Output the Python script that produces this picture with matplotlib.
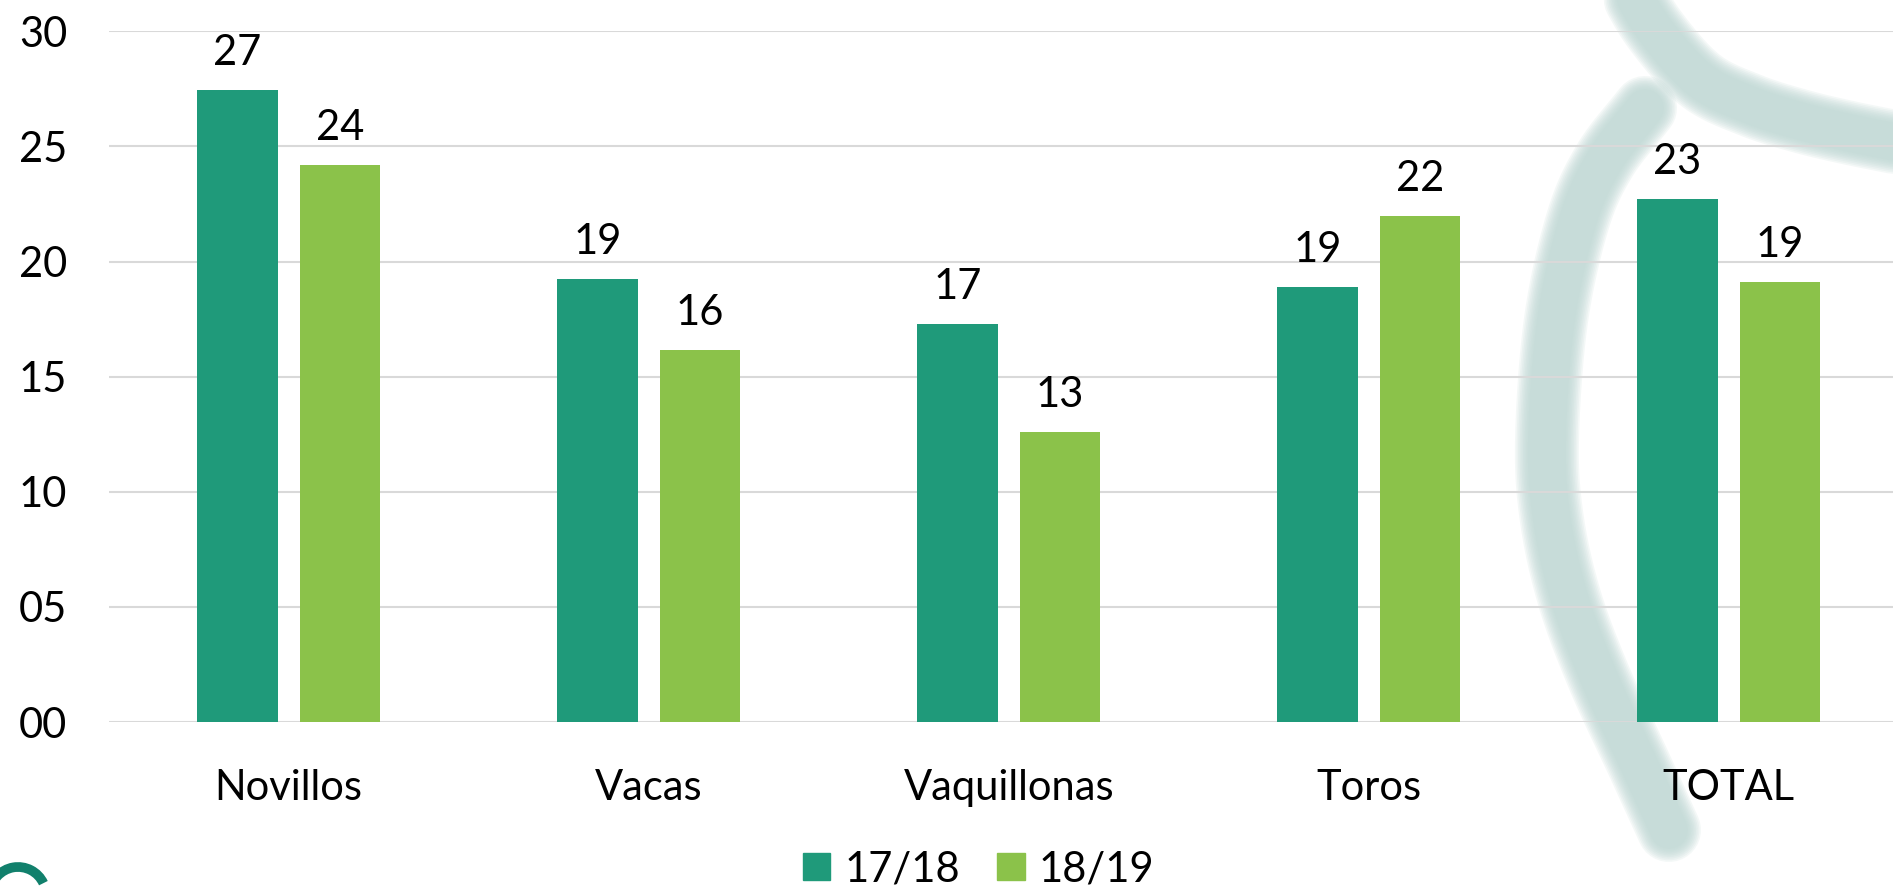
import matplotlib
matplotlib.use("Agg")
import matplotlib.pyplot as plt
from matplotlib.lines import Line2D
from matplotlib.patches import Arc, Patch
import numpy as np

# data
categories = ["Novillos", "Vacas", "Vaquillonas", "Toros", "TOTAL"]
season_1718 = [27.45, 19.25, 17.3, 18.9, 22.7]
season_1819 = [24.2, 16.15, 12.6, 22.0, 19.1]
series_names = ["17/18", "18/19"]
y_ticks = [0, 5, 10, 15, 20, 25, 30]

dark_green = "#1f9a7a"
light_green = "#8bc24a"
grid_color = "#d9d9d9"

plt.rcParams["font.family"] = ["Lato", "DejaVu Sans"]

W, H = 1893, 886
fig = plt.figure(figsize=(W / 100, H / 100), dpi=100)


def smooth(xs, ys, n=20):
    # catmull-rom through the traced points
    p = np.column_stack([xs, ys]).astype(float)
    p = np.vstack([2 * p[0] - p[1], p, 2 * p[-1] - p[-2]])
    out = []
    t = np.linspace(0, 1, n, endpoint=False)[:, None]
    for i in range(1, len(p) - 2):
        p0, p1, p2, p3 = p[i - 1], p[i], p[i + 1], p[i + 2]
        out.append(0.5 * (2 * p1 + (-p0 + p2) * t + (2 * p0 - 5 * p1 + 4 * p2 - p3) * t ** 2
                          + (-p0 + 3 * p1 - 3 * p2 + p3) * t ** 3))
    out.append(p[-2][None, :])
    out = np.vstack(out)
    return out[:, 0], out[:, 1]


# faint logo watermark behind the chart, traced in image pixels (y down)
upper_x = [1625, 1655, 1700, 1750, 1800, 1850, 1910]
upper_y = [-20, 30, 80, 105, 121, 133, 145]
c_x = [1645, 1605, 1578, 1556, 1547, 1552, 1570, 1600, 1637, 1669]
c_y = [108, 160, 220, 320, 440, 520, 600, 680, 760, 830]
for xs, ys in ((upper_x, upper_y), (c_x, c_y)):
    sx, sy = smooth(xs, ys)
    for lw_px in np.linspace(64, 38, 9):
        fig.add_artist(Line2D(sx, H - sy, transform=None,
                              color="#bcd6d2", lw=lw_px * 0.72, alpha=0.16,
                              solid_capstyle="round", solid_joinstyle="round",
                              zorder=-2))
# dark logo stroke peeking in at the bottom left corner
fig.patches.append(Arc((18, -9), 56, 56, theta1=25, theta2=175,
                       color="#11806c", lw=7, zorder=-1, transform=None))

ax = fig.add_axes([0.0574, 0.185, 0.951, 0.7796])
ax.patch.set_alpha(0)

x = np.arange(len(categories))
w = 0.224
off = 0.1424
b1 = ax.bar(x - off, season_1718, w, color=dark_green, label=series_names[0], zorder=3)
b2 = ax.bar(x + off, season_1819, w, color=light_green, label=series_names[1], zorder=3)

for bars in (b1, b2):
    for rect in bars:
        h = rect.get_height()
        ax.annotate(f"{h:02.0f}", (rect.get_x() + rect.get_width() / 2, h),
                    xytext=(0, 13), textcoords="offset points",
                    ha="center", va="bottom", fontsize=30, zorder=4)

ax.set_xlim(-0.5, 4.5)
ax.set_ylim(0, 30)
ax.set_yticks(y_ticks)
ax.set_yticklabels([f"{v:02d}" for v in y_ticks])
ax.set_xticks(x)
ax.set_xticklabels(categories)
ax.tick_params(axis="both", length=0, labelsize=30)
ax.tick_params(axis="y", pad=30)
ax.tick_params(axis="x", pad=34)
ax.grid(axis="y", color=grid_color, lw=1.5, zorder=1)
for s in ax.spines.values():
    s.set_visible(False)

handles = [Patch(color=dark_green), Patch(color=light_green)]
fig.legend(handles, series_names, loc="center", bbox_to_anchor=(0.517, 0.019),
           ncol=2, frameon=False, fontsize=30, handlelength=0.65, handleheight=0.65,
           handletextpad=0.34, columnspacing=0.9, borderpad=0)

fig.savefig("out.png", dpi=100)
